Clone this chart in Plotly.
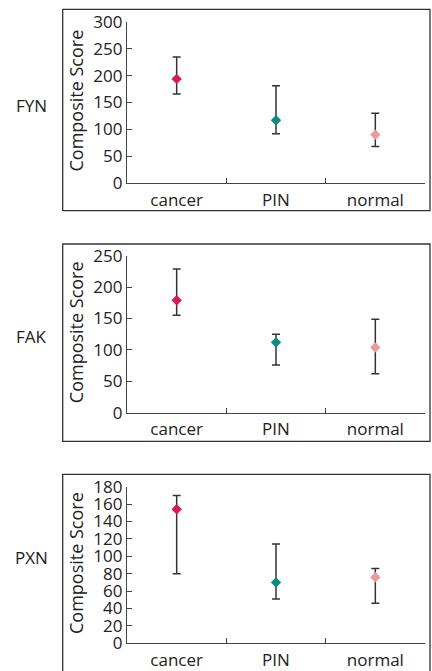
import plotly.graph_objects as go

W, H = 432, 671

categories = ["cancer", "PIN", "normal"]
genes = ["FYN", "FAK", "PXN"]

fyn_mean = [194, 117, 90]
fyn_upper = [235, 181, 130]
fyn_lower = [166, 92, 68]

fak_mean = [179, 112, 104]
fak_upper = [229, 125, 149]
fak_lower = [155, 76, 62]

pxn_mean = [154, 70, 76]
pxn_upper = [170, 114, 86]
pxn_lower = [80, 51, 46]

y_ranges = [[0, 300], [0, 250], [0, 180]]
y_dticks = [50, 50, 20]

colors = ["#d6185f", "#0e8b80", "#e89a9c"]

data = [(fyn_mean, fyn_upper, fyn_lower),
        (fak_mean, fak_upper, fak_lower),
        (pxn_mean, pxn_upper, pxn_lower)]

FONT = "Open Sans"
TXT = "#222222"
AX = "#444444"

# pixel geometry of panels
plot_x = (127, 425)
plot_y = [(22, 183), (255.7, 412.7), (486.7, 643.3)]
boxes = [(62.7, 9.3, 430, 210.7), (62.7, 244, 430, 441.3), (62.7, 474.3, 430, 690)]
label_y = [105, 336.7, 557]

def px_x(v):
    return v / W

def px_y(v):
    return 1 - v / H

fig = go.Figure()
shapes = []
annotations = []

for i, (mean, up, lo) in enumerate(data):
    sfx = "" if i == 0 else str(i + 1)
    for j, cat in enumerate(categories):
        fig.add_trace(go.Scatter(
            x=[cat], y=[mean[j]],
            mode="markers",
            marker=dict(symbol="diamond", size=8, color=colors[j]),
            error_y=dict(type="data", symmetric=False,
                         array=[up[j] - mean[j]],
                         arrayminus=[mean[j] - lo[j]],
                         color="#333333", thickness=1.5, width=4),
            xaxis="x" + sfx, yaxis="y" + sfx,
            showlegend=False, hoverinfo="skip",
        ))
    y0, y1 = plot_y[i]
    fig.layout["xaxis" + sfx] = dict(
        domain=[px_x(plot_x[0]), px_x(plot_x[1])],
        anchor="y" + sfx,
        type="category",
        categoryorder="array", categoryarray=categories,
        range=[-0.5, 2.5],
        tickson="boundaries",
        ticks="inside", ticklen=5, tickcolor=AX, tickwidth=1,
        showline=True, linecolor=AX, linewidth=1.2,
        showgrid=False, zeroline=False,
        tickfont=dict(family=FONT, size=17, color=TXT),
        ticklabelstandoff=1,
        automargin=False,
        fixedrange=True,
    )
    fig.layout["yaxis" + sfx] = dict(
        domain=[px_y(y1), px_y(y0)],
        anchor="x" + sfx,
        range=y_ranges[i], dtick=y_dticks[i], tick0=0,
        ticks="inside", ticklen=5, tickcolor=AX, tickwidth=1,
        showline=True, linecolor=AX, linewidth=1.2,
        showgrid=False, zeroline=False,
        tickfont=dict(family=FONT, size=17, color=TXT),
        automargin=False,
        fixedrange=True,
    )
    bx0, by0, bx1, by1 = boxes[i]
    shapes.append(dict(type="rect", xref="paper", yref="paper",
                       x0=px_x(bx0), x1=px_x(bx1), y0=px_y(by1), y1=px_y(by0),
                       line=dict(color="#333333", width=1.3)))
    annotations.append(dict(text="Composite Score", textangle=-90,
                            xref="paper", yref="paper",
                            x=px_x(76), y=px_y((y0 + y1) / 2 - 2),
                            xanchor="center", yanchor="middle",
                            showarrow=False,
                            font=dict(family=FONT, size=18, color=TXT)))
    annotations.append(dict(text=genes[i],
                            xref="paper", yref="paper",
                            x=px_x(31), y=px_y(label_y[i]),
                            xanchor="center", yanchor="middle",
                            showarrow=False,
                            font=dict(family=FONT, size=17, color=TXT)))

fig.update_layout(
    template="none",
    width=W, height=H,
    margin=dict(l=0, r=0, t=0, b=0, pad=0),
    paper_bgcolor="white", plot_bgcolor="white",
    shapes=shapes, annotations=annotations,
)

fig.write_html("out.html", config={"displayModeBar": False},
               post_script="document.body.style.margin='0px';")
